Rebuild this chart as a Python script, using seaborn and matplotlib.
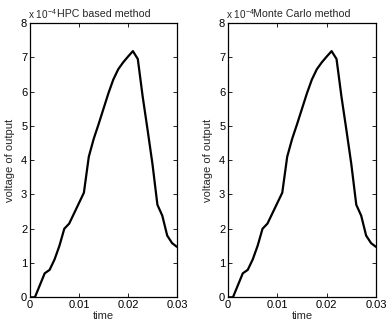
import matplotlib
matplotlib.use("Agg")
import matplotlib.pyplot as plt
import numpy as np
import pandas as pd
import seaborn as sns

# time axis (s) and output voltage (in units of 1e-4)
time = [0.0, 0.001, 0.002, 0.003, 0.004, 0.005, 0.006, 0.007, 0.008, 0.009,
        0.010, 0.011, 0.012, 0.013, 0.014, 0.015, 0.016, 0.017, 0.018, 0.019,
        0.020, 0.021, 0.022, 0.023, 0.024, 0.025, 0.026, 0.027, 0.028, 0.029,
        0.030]
volt_hpc = [0.0, 0.0, 0.35, 0.7, 0.8, 1.1, 1.5, 2.0, 2.15, 2.45,
            2.75, 3.05, 4.1, 4.62, 5.05, 5.5, 5.95, 6.35, 6.65, 6.85,
            7.02, 7.18, 6.95, 5.85, 4.88, 3.88, 2.7, 2.38, 1.8, 1.58,
            1.47]
volt_mc = [0.0, 0.0, 0.35, 0.7, 0.8, 1.1, 1.5, 2.0, 2.15, 2.45,
           2.75, 3.05, 4.1, 4.62, 5.05, 5.5, 5.95, 6.35, 6.65, 6.85,
           7.02, 7.18, 6.95, 5.85, 4.88, 3.88, 2.7, 2.38, 1.8, 1.58,
           1.47]
titles = ["HPC based method", "Monte Carlo method"]
xticks = [0, 0.01, 0.02, 0.03]
xtick_labels = ["0", "0.01", "0.02", "0.03"]
yticks = [0, 1, 2, 3, 4, 5, 6, 7, 8]

sns.set_style("white")
plt.rcParams['font.family'] = ['Liberation Sans', 'DejaVu Sans']
plt.rcParams['mathtext.fontset'] = 'custom'
plt.rcParams['mathtext.rm'] = 'Liberation Sans'

fig = plt.figure(figsize=(3.86, 3.31), dpi=100)
ax1 = fig.add_axes([30 / 386, 33.7 / 331, 147 / 386, 274.3 / 331])
ax2 = fig.add_axes([228 / 386, 33.7 / 331, 148 / 386, 274.3 / 331])

fs = 8
for ax, vals, title in zip([ax1, ax2], [volt_hpc, volt_mc], titles):
    df = pd.DataFrame({"time": time, "voltage": np.array(vals) * 1e-4})
    sns.lineplot(data=df, x="time", y="voltage", ax=ax, color="black",
                 linewidth=1.6)
    ax.set_xlim(0, 0.03)
    ax.set_ylim(0, 8e-4)
    ax.set_xticks(xticks)
    ax.set_xticklabels(xtick_labels)
    ax.set_yticks([v * 1e-4 for v in yticks])
    ax.set_yticklabels([str(v) for v in yticks])
    ax.tick_params(direction="in", length=3, width=0.6, labelsize=fs,
                   top=True, right=True, bottom=True, left=True, pad=2,
                   colors="black")
    for s in ax.spines.values():
        s.set_visible(True)
        s.set_color("black")
        s.set_linewidth(0.9)
    ax.set_xlabel("time", fontsize=fs, labelpad=1)
    ax.set_ylabel("voltage of output", fontsize=fs, labelpad=4)
    ax.set_title(title, fontsize=7.7, pad=4)
    ax.text(-0.012, 1.008, r"x 10$^{-4}$", transform=ax.transAxes,
            fontsize=7.2, ha="left", va="bottom")

fig.savefig("out.png", dpi=100)
